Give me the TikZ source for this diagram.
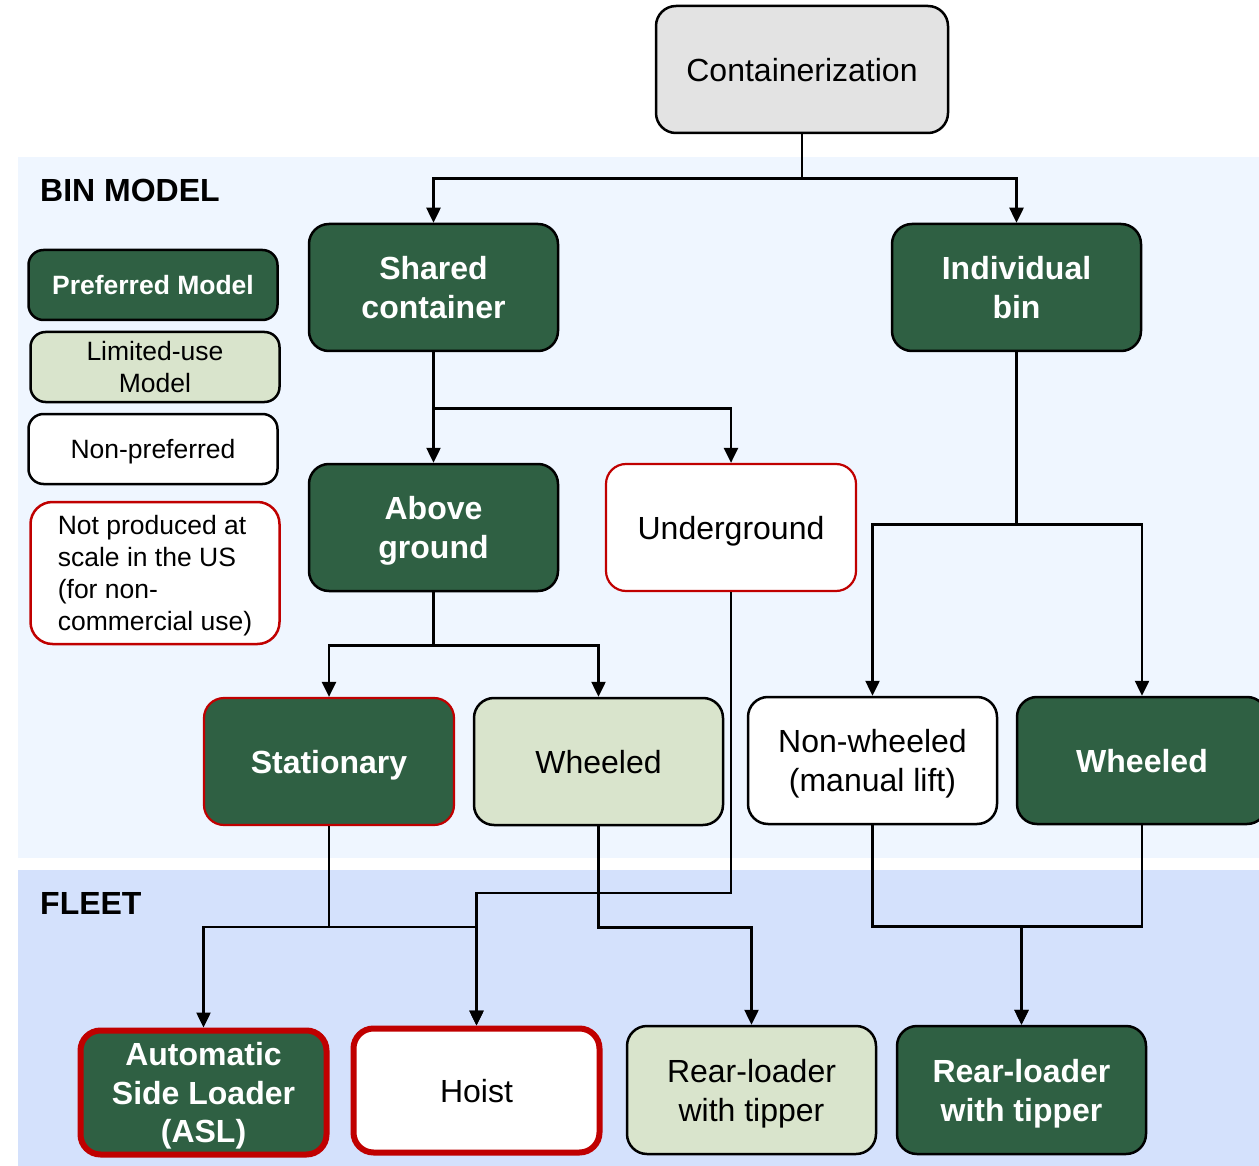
\documentclass[tikz,border=0pt]{standalone}
\usepackage{fontspec}
\setmainfont{Liberation Sans}
\usetikzlibrary{arrows.meta}
\definecolor{dkgreen}{RGB}{47,96,67}
\definecolor{ltgreen}{RGB}{217,228,204}
\definecolor{boxgray}{RGB}{227,227,227}
\definecolor{binpanel}{RGB}{239,246,255}
\definecolor{fleetpanel}{RGB}{212,225,252}
\definecolor{redline}{RGB}{192,0,0}
\tikzset{
  box/.style={rectangle, rounded corners=20pt, draw=black, line width=2.5pt,
    minimum width=249pt, minimum height=127pt, align=center, inner sep=0pt,
    text depth=0pt, font=\fontsize{32}{39}\selectfont},
  prefbox/.style={box, fill=dkgreen, text=white, font=\bfseries\fontsize{32}{39}\selectfont},
  limbox/.style={box, fill=ltgreen},
  nonbox/.style={box, fill=white},
  redthin/.style={draw=redline, line width=2.2pt},
  redthick/.style={draw=redline, line width=6pt},
  legbox/.style={rectangle, rounded corners=15pt, draw=black, line width=2.5pt,
    minimum width=249pt, minimum height=70pt, align=center, inner sep=0pt,
    text depth=0pt, font=\fontsize{26.5}{32}\selectfont},
  conn/.style={draw=black, line width=2.5pt},
  arr/.style={conn, -{Triangle[length=15pt,width=14pt]}},
  paneltitle/.style={anchor=west, inner sep=0pt, font=\bfseries\fontsize{32}{39}\selectfont}
}
\begin{document}
\begin{tikzpicture}[x=1pt,y=-1pt]
\clip (0,0) rectangle (1259,1166);
\fill[white] (0,0) rectangle (1259,1166);
% panels
\fill[binpanel] (18,157) rectangle (1270,858);
\fill[fleetpanel] (18,870) rectangle (1270,1170);
\node[paneltitle] (tbin) at (40,190) {BIN MODEL};
\node[paneltitle] (tfleet) at (40,903) {FLEET};

% legend
\node[legbox, fill=dkgreen, text=white, font=\bfseries\fontsize{26.5}{32}\selectfont] (lpref) at (153,285) {Preferred Model};
\node[legbox, fill=ltgreen] (llim) at (155,367) {Limited-use\\Model};
\node[legbox, fill=white] (lnon) at (153,449) {Non-preferred};
\node[legbox, fill=white, draw=redline, minimum height=142pt, rounded corners=22pt, align=left] (lnot) at (155,573) {Not produced at\\scale in the US\\(for non-\\commercial use)};

% nodes
\node[box, fill=boxgray, minimum width=292pt] (cont) at (802,69.5) {Containerization};
\node[prefbox] (shared) at (433.5,287.5) {Shared\\container};
\node[prefbox] (indiv) at (1016.5,287.5) {Individual\\bin};
\node[prefbox] (above) at (433.5,527.5) {Above\\ground};
\node[nonbox, redthin, minimum width=250pt] (under) at (731,527.5) {Underground};
\node[prefbox, redthin, minimum width=250pt] (stat) at (329,761.5) {Stationary};
\node[limbox] (wheelL) at (598.5,761.5) {Wheeled};
\node[nonbox] (nonw) at (872.5,760.5) {Non-wheeled\\(manual lift)};
\node[prefbox, minimum width=250pt] (wheelD) at (1142,760.5) {Wheeled};
\node[prefbox, redthick, minimum width=246pt, minimum height=124pt, font=\bfseries\fontsize{32}{38.5}\selectfont] (asl) at (203.5,1092.5) {Automatic\\Side Loader\\(ASL)};
\node[nonbox, redthick, minimum width=246pt, minimum height=124pt] (hoist) at (476.5,1090.5) {Hoist};
\node[limbox, minimum height=128pt] (rearL) at (751.5,1090) {Rear-loader\\with tipper};
\node[prefbox, minimum height=128pt] (rearD) at (1021.5,1090) {Rear-loader\\with tipper};

% connectors
\draw[arr] (cont.south) -- ++(0,44.5) -| (shared.north);
\draw[arr] (cont.south) -- ++(0,44.5) -| (indiv.north);
\draw[arr] (shared.south) -- (above.north);
\draw[arr] (shared.south) -- ++(0,56) -| (under.north);
\draw[arr] (above.south) -- ++(0,53) -| (stat.north);
\draw[arr] (above.south) -- ++(0,53) -| (wheelL.north);
\draw[arr] (indiv.south) -- ++(0,172) -| (nonw.north);
\draw[arr] (indiv.south) -- ++(0,172) -| (wheelD.north);
\draw[arr] (stat.south) -- ++(0,101) -| (asl.north);
\draw[arr] (stat.south) -- ++(0,101) -| (hoist.north);
\draw[arr] (under.south) -- ++(0,301) -| (hoist.north);
\draw[arr] (wheelL.south) -- ++(0,101) -| (rearL.north);
\draw[arr] (nonw.south) -- ++(0,101) -| (rearD.north);
\draw[arr] (wheelD.south) -- ++(0,101) -| (rearD.north);
\end{tikzpicture}
\end{document}
